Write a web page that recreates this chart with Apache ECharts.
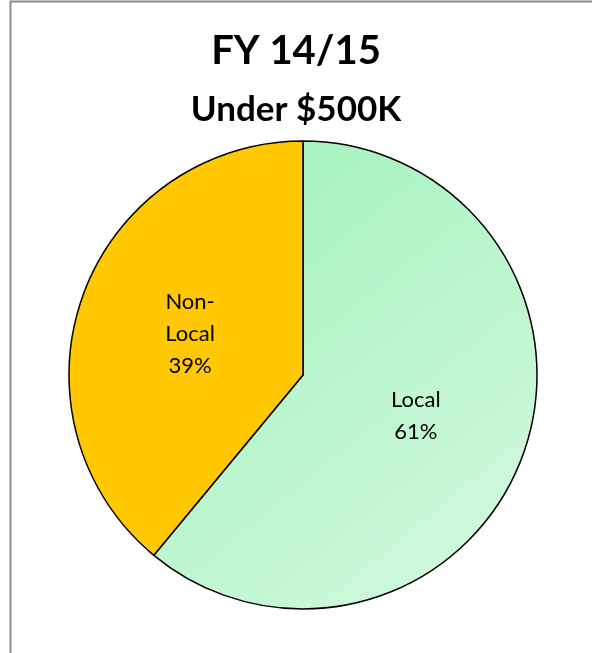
<!DOCTYPE html>
<html>
<head>
<meta charset="utf-8">
<script src="https://cdn.jsdelivr.net/npm/echarts@6/dist/echarts.min.js"></script>
<style>
  html, body { margin: 0; padding: 0; background: #fff; }
  #main { width: 592px; height: 653px; }
</style>
</head>
<body>
<div id="main"></div>
<script>
var categories = ['Local', 'Non-Local'];
var shares = [61, 39];
var titleLines = ['FY 14/15', 'Under $500K'];

var localFill = new echarts.graphic.LinearGradient(0, 0, 1, 1, [
  { offset: 0, color: '#9ff2bb' },
  { offset: 1, color: '#d6f9e0' }
]);
var sliceColors = [localFill, '#ffc800'];

var chart = echarts.init(document.getElementById('main'));
chart.setOption({
  animation: false,
  graphic: [{
    type: 'rect',
    shape: { x: 10.5, y: 1.5, width: 600, height: 700 },
    style: { fill: 'none', stroke: '#8c8c8c', lineWidth: 2 }
  }],
  title: [{
    text: titleLines[0],
    left: 'center',
    top: 26,
    textStyle: { fontFamily: 'Lato', fontWeight: 'bold', fontSize: 40, color: '#000' }
  }, {
    text: titleLines[1],
    left: 'center',
    top: 87,
    textStyle: { fontFamily: 'Lato', fontWeight: 'bold', fontSize: 35, color: '#000' }
  }],
  series: [{
    type: 'pie',
    center: [303, 375],
    radius: 234,
    startAngle: 90,
    clockwise: true,
    itemStyle: { borderColor: '#000', borderWidth: 1.5 },
    label: {
      position: 'inside',
      fontFamily: 'Lato',
      fontSize: 22,
      lineHeight: 32,
      color: '#000',
      formatter: function (p) {
        return p.name.replace('-', '-\n') + '\n' + p.value + '%';
      }
    },
    labelLine: { show: false },
    emphasis: { disabled: true },
    data: categories.map(function (c, i) {
      return { name: c, value: shares[i], itemStyle: { color: sliceColors[i] } };
    })
  }]
});
</script>
</body>
</html>
